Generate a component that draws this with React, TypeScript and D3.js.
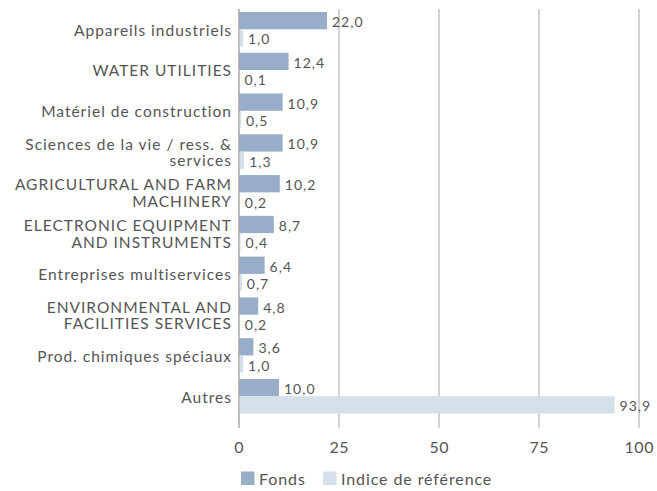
import { scaleBand, scaleLinear } from 'd3'

const categories = [
  ['Appareils industriels'],
  ['WATER UTILITIES'],
  ['Matériel de construction'],
  ['Sciences de la vie / ress. &', 'services'],
  ['AGRICULTURAL AND FARM', 'MACHINERY'],
  ['ELECTRONIC EQUIPMENT', 'AND INSTRUMENTS'],
  ['Entreprises multiservices'],
  ['ENVIRONMENTAL AND', 'FACILITIES SERVICES'],
  ['Prod. chimiques spéciaux'],
  ['Autres'],
]
const fonds = [22.0, 12.4, 10.9, 10.9, 10.2, 8.7, 6.4, 4.8, 3.6, 10.0]
const indice = [1.0, 0.1, 0.5, 1.3, 0.2, 0.4, 0.7, 0.2, 1.0, 93.9]
const ticks = [0, 25, 50, 75, 100]
const seriesNames = ['Fonds', 'Indice de référence']

const W = 657
const H = 491
const COLORS = ['#98adc8', '#d5e0ea']
const TEXT = '#555555'
const GRID = '#a6a6a6'
const FONT = 'Lato, "Open Sans", sans-serif'

const fmt = (v: number) => v.toFixed(1).replace('.', ',')

export default function App() {
  const x = scaleLinear().domain([0, 100]).range([239, 639])
  const y = scaleBand<number>()
    .domain(categories.map((_, i) => i))
    .range([8.9, 416.6])
    .paddingInner(0.152)
    .paddingOuter(0.076)
  const barH = y.bandwidth() / 2
  const gridTop = 9
  const gridBottom = 428

  return (
    <svg
      width={W}
      height={H}
      style={{ position: 'absolute', left: 0, top: 0 }}
      fontFamily={FONT}
    >
      <rect width={W} height={H} fill="#ffffff" />
      {ticks.map((t) => (
        <g key={t}>
          <line x1={x(t)} x2={x(t)} y1={gridTop} y2={gridBottom} stroke={GRID} strokeWidth={1} />
          <text
            x={x(t) + 0.3}
            y={447}
            dy="0.35em"
            textAnchor="middle"
            fontSize={16}
            letterSpacing={0.6}
            fill={TEXT}
          >
            {t}
          </text>
        </g>
      ))}

      {categories.map((lines, i) => {
        const top = y(i) ?? 0
        const cy = top + barH
        const values = [fonds[i], indice[i]]
        return (
          <g key={i}>
            {values.map((v, s) => (
              <g key={s}>
                <rect
                  x={x(0)}
                  y={top + s * barH}
                  width={Math.max(x(v) - x(0), 0.5)}
                  height={barH}
                  fill={COLORS[s]}
                />
                <text
                  x={x(v) + 5}
                  y={top + s * barH + barH / 2 + 1.6}
                  dy="0.35em"
                  fontSize={14}
                  letterSpacing={1}
                  fill={TEXT}
                >
                  {fmt(v)}
                </text>
              </g>
            ))}
            {lines.map((line, li) => (
              <text
                key={li}
                x={232}
                y={cy + 1 + (li - (lines.length - 1) / 2) * 16.7}
                dy="0.35em"
                textAnchor="end"
                fontSize={15.5}
                letterSpacing={1}
                fill={TEXT}
              >
                {line}
              </text>
            ))}
          </g>
        )
      })}

      <line x1={x(0)} x2={x(0)} y1={gridTop} y2={gridBottom} stroke={GRID} strokeWidth={1} />

      {seriesNames.map((name, i) => {
        const lx = i === 0 ? 241 : 323
        return (
          <g key={name}>
            <rect x={lx} y={471.5} width={13.5} height={13.5} fill={COLORS[i]} />
            <text
              x={lx + 18}
              y={479}
              dy="0.35em"
              fontSize={16}
              letterSpacing={0.9}
              fill={TEXT}
            >
              {name}
            </text>
          </g>
        )
      })}
    </svg>
  )
}
